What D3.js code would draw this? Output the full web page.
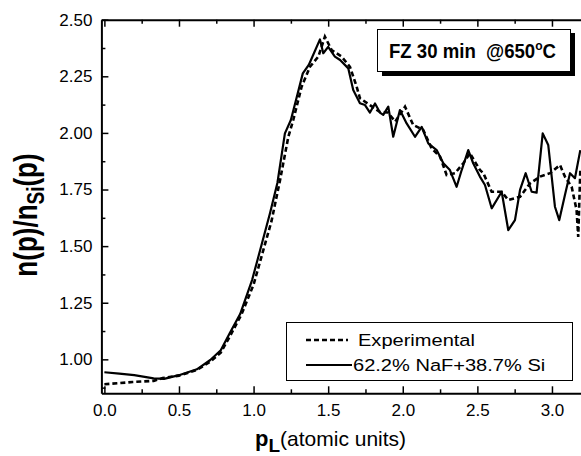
<!DOCTYPE html>
<html>
<head>
<meta charset="utf-8">
<script src="https://cdn.jsdelivr.net/npm/d3@7"></script>
<style>
  body { margin: 0; background: #fff; }
  svg { display: block; font-family: "Liberation Sans", Arial, sans-serif; }
</style>
</head>
<body>
<script>
'use strict';

// experimental curve (dashed)
const expX = [0.00, 0.10, 0.19, 0.33, 0.39, 0.50, 0.62, 0.71, 0.78, 0.84, 0.92, 1.00, 1.06, 1.12, 1.177,
  1.233, 1.266, 1.322, 1.378, 1.434, 1.478, 1.523, 1.59, 1.646, 1.691, 1.713, 1.78, 1.847, 1.90, 1.95,
  2.015, 2.07, 2.137, 2.193, 2.25, 2.294, 2.35, 2.406, 2.45, 2.517, 2.54, 2.596, 2.663, 2.707, 2.786,
  2.853, 2.92, 2.987, 3.054, 3.087, 3.132, 3.165, 3.176, 3.19];
const expY = [0.890, 0.895, 0.900, 0.905, 0.917, 0.928, 0.953, 0.990, 1.030, 1.100, 1.200, 1.330, 1.470, 1.610, 1.790,
  1.983, 2.057, 2.204, 2.292, 2.337, 2.425, 2.366, 2.337, 2.292, 2.204, 2.153, 2.123, 2.092, 2.090, 2.050,
  2.116, 2.035, 2.013, 1.932, 1.895, 1.814, 1.822, 1.866, 1.910, 1.836, 1.822, 1.740, 1.740, 1.704, 1.718,
  1.777, 1.807, 1.822, 1.858, 1.807, 1.762, 1.660, 1.541, 1.836];

// 62.2% NaF + 38.7% Si curve (solid)
const simX = [0.00, 0.10, 0.20, 0.33, 0.40, 0.50, 0.62, 0.71, 0.78, 0.84, 0.91, 0.99, 1.05, 1.11, 1.16,
  1.21, 1.25, 1.29, 1.33, 1.37, 1.445, 1.467, 1.50, 1.545, 1.58, 1.635, 1.668, 1.713, 1.747, 1.78,
  1.814, 1.847, 1.869, 1.903, 1.936, 1.981, 2.026, 2.082, 2.127, 2.171, 2.227, 2.272, 2.316, 2.361, 2.395,
  2.439, 2.472, 2.517, 2.551, 2.596, 2.663, 2.707, 2.752, 2.786, 2.824, 2.864, 2.897, 2.938, 2.975, 3.02,
  3.049, 3.087, 3.121, 3.154, 3.19];
const simY = [0.943, 0.937, 0.930, 0.916, 0.914, 0.930, 0.956, 0.997, 1.040, 1.115, 1.200, 1.350, 1.497, 1.645, 1.780,
  1.998, 2.057, 2.160, 2.263, 2.300, 2.413, 2.352, 2.380, 2.337, 2.322, 2.285, 2.190, 2.131, 2.123, 2.090,
  2.130, 2.090, 2.080, 2.116, 1.983, 2.101, 2.042, 1.983, 2.027, 1.954, 1.924, 1.866, 1.836, 1.762, 1.836,
  1.924, 1.866, 1.807, 1.770, 1.667, 1.740, 1.571, 1.615, 1.748, 1.822, 1.740, 1.736, 1.998, 1.947, 1.674,
  1.615, 1.726, 1.822, 1.800, 1.924];

// ticks
const xMajor = [0.0, 0.5, 1.0, 1.5, 2.0, 2.5, 3.0];
const xMinor = [0.25, 0.75, 1.25, 1.75, 2.25, 2.75];
const yMajor = [1.00, 1.25, 1.50, 1.75, 2.00, 2.25, 2.50];
const yMinor = [0.875, 1.125, 1.375, 1.625, 1.875, 2.125, 2.375];

const legendLabels = ["Experimental", "62.2% NaF+38.7% Si"];
const titleText = "FZ 30 min  @650";

(function() {

  const W = 581, H = 456;
  const plotLeft = 101.4, plotRight = 581.8, plotTop = 19.7, plotBottom = 393.3;

  const svg = d3.select("body").append("svg")
    .attr("width", W)
    .attr("height", H);

  const xScale = d3.scaleLinear().domain([-0.02, 3.2]).range([plotLeft, plotRight]);
  const yScale = d3.scaleLinear().domain([0.85, 2.5]).range([plotBottom, plotTop]);

  // clip for the curves
  svg.append("clipPath").attr("id", "plotClip")
    .append("rect")
    .attr("x", plotLeft).attr("y", plotTop)
    .attr("width", plotRight - plotLeft).attr("height", plotBottom - plotTop);

  // draw one axis (major + minor), ticks pointing inwards
  function drawAxis(axisFn, scale, major, minor, transform, labelled, fmt, pad) {
    const gMinor = svg.append("g").attr("transform", transform)
      .call(axisFn(scale).tickValues(minor).tickSize(-4).tickSizeOuter(0).tickFormat(""));
    gMinor.select(".domain").remove();
    const g = svg.append("g").attr("transform", transform)
      .call(axisFn(scale).tickValues(major).tickSize(-7).tickSizeOuter(0)
        .tickPadding(pad).tickFormat(labelled ? fmt : ""));
    g.select(".domain").attr("stroke-width", 2);
    g.selectAll(".tick line").attr("stroke-width", 1.5);
    gMinor.selectAll(".tick line").attr("stroke-width", 1.5);
    g.selectAll("text")
      .attr("font-family", "'Liberation Sans', Arial, sans-serif")
      .attr("font-size", 17)
      .attr("fill", "#000");
    return g;
  }

  drawAxis(d3.axisBottom, xScale, xMajor, xMinor, `translate(0,${plotBottom})`, true, d3.format(".1f"), 11);
  drawAxis(d3.axisTop, xScale, xMajor, xMinor, `translate(0,${plotTop})`, false, null, 0);
  drawAxis(d3.axisLeft, yScale, yMajor, yMinor, `translate(${plotLeft},0)`, true, d3.format(".2f"), 9);

  // curves
  const line = d3.line()
    .x(d => xScale(d[0]))
    .y(d => yScale(d[1]));

  const expData = expX.map((x, i) => [x, expY[i]]);
  const simData = simX.map((x, i) => [x, simY[i]]);

  const curves = svg.append("g").attr("clip-path", "url(#plotClip)");

  curves.append("path")
    .datum(expData)
    .attr("d", line)
    .attr("fill", "none")
    .attr("stroke", "#000")
    .attr("stroke-width", 2.6)
    .attr("stroke-dasharray", "5,3");

  curves.append("path")
    .datum(simData)
    .attr("d", line)
    .attr("fill", "none")
    .attr("stroke", "#000")
    .attr("stroke-width", 2.2)
    .attr("stroke-linejoin", "round");

  // title box with drop shadow
  svg.append("rect")
    .attr("x", 382).attr("y", 33)
    .attr("width", 193).attr("height", 43)
    .attr("fill", "#000");
  svg.append("rect")
    .attr("x", 377.5).attr("y", 29.5)
    .attr("width", 193).attr("height", 42)
    .attr("fill", "#fff")
    .attr("stroke", "#000")
    .attr("stroke-width", 1);
  const title = svg.append("text")
    .attr("transform", "translate(389,58) scale(0.93,1)")
    .attr("font-size", 20)
    .attr("font-weight", "bold")
    .style("white-space", "pre")
    .text(titleText);
  title.append("tspan")
    .attr("font-size", 13)
    .attr("dy", -8)
    .text("o");
  title.append("tspan")
    .attr("dy", 8)
    .text("C");

  // legend
  svg.append("rect")
    .attr("x", 286.5).attr("y", 322.5)
    .attr("width", 286).attr("height", 58)
    .attr("fill", "#fff")
    .attr("stroke", "#000")
    .attr("stroke-width", 1);

  const legendRows = [
    { y: 340, dash: "5,3", width: 2.6, label: legendLabels[0], tx: 358 },
    { y: 365, dash: null, width: 2.2, label: legendLabels[1], tx: 353 }
  ];
  legendRows.forEach(r => {
    svg.append("line")
      .attr("x1", 306).attr("x2", r.dash ? 348 : 352)
      .attr("y1", r.y).attr("y2", r.y)
      .attr("stroke", "#000")
      .attr("stroke-width", r.width)
      .attr("stroke-dasharray", r.dash);
    svg.append("text")
      .attr("transform", `translate(${r.tx},${r.y + 6}) scale(1.18,1)`)
      .attr("font-size", 17)
      .text(r.label);
  });

  // y axis label
  const yLab = svg.append("text")
    .attr("transform", "translate(37,215) rotate(-90) scale(1,1.3)")
    .attr("text-anchor", "middle")
    .attr("font-size", 26)
    .attr("font-weight", "bold")
    .text("n(p)/n");
  yLab.append("tspan").attr("font-size", 19).attr("dy", 5).text("Si");
  yLab.append("tspan").attr("dy", -5).text("(p)");

  // x axis label
  const xLab = svg.append("text")
    .attr("x", 255).attr("y", 446);
  xLab.append("tspan").attr("font-size", 22).attr("font-weight", "bold").text("p");
  xLab.append("tspan").attr("font-size", 19).attr("font-weight", "bold").attr("dy", 6).text("L");
  xLab.append("tspan").attr("font-size", 21).attr("dy", -6).text("(atomic units)");

})();
</script>
</body>
</html>
